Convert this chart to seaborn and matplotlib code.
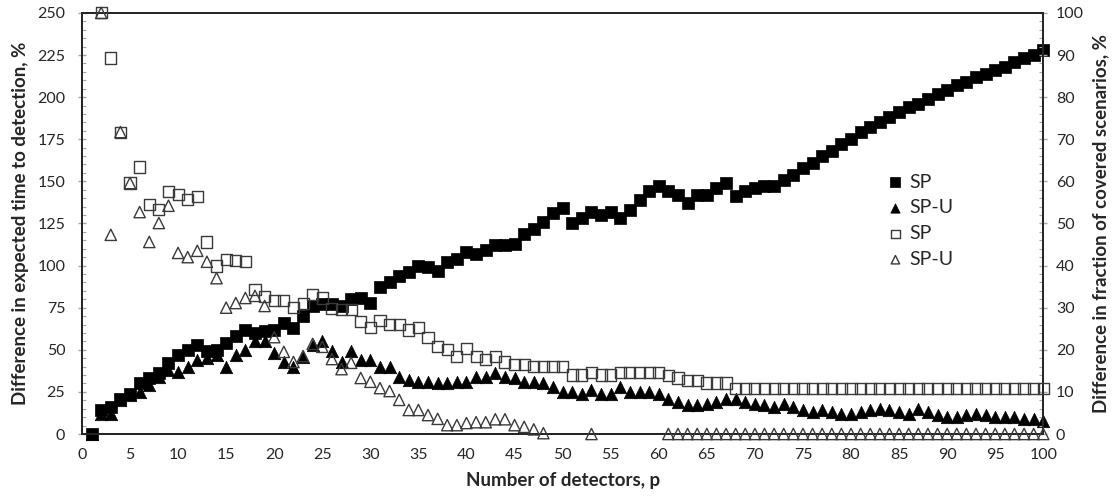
import numpy as np
import matplotlib
matplotlib.use("Agg")
import matplotlib.pyplot as plt
from matplotlib.ticker import MultipleLocator
import seaborn as sns

# Number of detectors
p = list(range(1, 101))

# Difference in expected time to detection, % (left axis)
sp_time = [0, 14, 16, 21, 24, 30, 33, 36, 42, 47,
           50, 53, 49, 50, 54, 58, 62, 60, 61, 62,
           66, 63, 70, 76, 77, 77, 76, 80, 81, 78,
           87, 90, 94, 96, 100, 99, 97, 102, 104, 108,
           107, 109, 112, 112, 113, 119, 122, 126, 131, 134,
           125, 128, 132, 130, 132, 128, 133, 139, 144, 147,
           144, 142, 137, 142, 142, 146, 149, 141, 144, 146,
           147, 147, 151, 154, 158, 161, 165, 168, 172, 175,
           179, 182, 185, 188, 191, 194, 196, 199, 202, 204,
           207, 209, 212, 214, 216, 218, 221, 223, 225, 228]

spu_time = [0, 12, 12, 20, 23, 25, 29, 34, 38, 37,
            40, 44, 45, 47, 40, 47, 50, 55, 55, 48,
            43, 40, 46, 53, 55, 49, 43, 49, 44, 44,
            40, 40, 34, 32, 31, 31, 30, 30, 31, 31,
            34, 34, 36, 34, 33, 31, 31, 30, 28, 25,
            25, 24, 26, 24, 24, 28, 25, 25, 25, 24,
            21, 19, 17, 17, 18, 19, 21, 21, 19, 18,
            17, 16, 18, 16, 14, 13, 14, 13, 12, 12,
            13, 14, 15, 14, 13, 12, 15, 13, 11, 10,
            10, 11, 12, 11, 10, 10, 10, 9, 9, 8]

# Difference in fraction of covered scenarios, % (right axis)
nan = np.nan
sp_cov = [nan, 100, 89.3, 71.7, 59.6, 63.4, 54.4, 53.4, 57.5, 56.8,
          55.6, 56.3, 45.6, 39.9, 41.5, 41.1, 40.9, 34.4, 32.6, 31.6,
          31.6, 30.0, 31.0, 33.2, 32.3, 29.7, 29.5, 29.5, 26.8, 25.2,
          27.0, 25.9, 26.1, 24.7, 25.2, 23.0, 20.7, 20.0, 18.5, 20.2,
          18.3, 17.6, 18.5, 17.1, 16.6, 16.6, 16.0, 16.0, 16.0, 16.0,
          14.0, 14.0, 14.5, 14.0, 14.0, 14.5, 14.5, 14.5, 14.5, 14.5,
          13.8, 13.3, 12.6, 12.6, 12.1, 12.1, 12.1] + [10.8] * 33

spu_cov = [nan, 100, 47.3, 71.7, 59.6, 52.7, 45.6, 50.1, 54.2, 43.0,
           42.0, 43.5, 40.9, 37.0, 30.0, 31.1, 32.3, 32.8, 30.4, 23.0,
           19.5, 17.1, 18.5, 21.4, 20.7, 17.8, 15.4, 16.9, 13.3, 12.4,
           10.9, 10.2, 8.1, 5.7, 5.7, 4.5, 3.6, 2.1, 2.1, 2.6,
           2.8, 2.8, 3.5, 3.5, 2.1, 1.7, 1.1, 0.2, nan, nan,
           nan, nan, 0.0, nan, nan, nan, nan, nan, nan, nan] + [0.0] * 40

sns.set_style("white")
plt.rcParams["font.family"] = ["Lato", "DejaVu Sans"]

fig = plt.figure(figsize=(11.12, 4.96), dpi=100)
ax = fig.add_axes([0.0737, 0.125, 0.8645, 0.849])
ax2 = ax.twinx()

common = dict(clip_on=False, legend=False)
sns.scatterplot(x=p, y=sp_time, ax=ax, marker="s", s=82, color="black",
                edgecolor="black", linewidth=0.5, label="SP", zorder=3, **common)
sns.scatterplot(x=p, y=spu_time, ax=ax, marker="^", s=80, color="black",
                edgecolor="black", linewidth=0.5, label="SP-U", zorder=3, **common)
sns.scatterplot(x=p, y=sp_cov, ax=ax2, marker="s", s=64, facecolors="none",
                edgecolors="#3a3a3a", linewidths=1.0, label="SP", zorder=3, **common)
sns.scatterplot(x=p, y=spu_cov, ax=ax2, marker="^", s=66, facecolors="none",
                edgecolors="#3a3a3a", linewidths=1.0, label="SP-U", zorder=3, **common)

ax.set_xlim(0, 100)
ax.set_ylim(0, 250)
ax2.set_ylim(0, 100)

tick_grey = "#a6a6a6"
ax.xaxis.set_major_locator(MultipleLocator(5))
ax.xaxis.set_minor_locator(MultipleLocator(1))
ax.yaxis.set_major_locator(MultipleLocator(25))
ax.yaxis.set_minor_locator(MultipleLocator(5))
ax2.yaxis.set_major_locator(MultipleLocator(10))
ax2.yaxis.set_minor_locator(MultipleLocator(2))

ax.tick_params(axis="x", which="major", direction="out", length=4, width=1,
               color=tick_grey, labelsize=11.5, pad=6)
ax.tick_params(axis="x", which="minor", direction="out", length=3, width=0.8,
               color=tick_grey)
ax.tick_params(axis="y", which="major", direction="inout", length=6, width=1,
               color=tick_grey, labelsize=11.5, pad=9)
ax.tick_params(axis="y", which="minor", direction="in", length=3, width=0.8,
               color=tick_grey, left=True)
ax2.tick_params(axis="y", which="major", direction="inout", length=6, width=1,
                color=tick_grey, labelsize=11.5, pad=6)
ax2.tick_params(axis="y", which="minor", direction="in", length=3, width=0.8,
                color=tick_grey, right=True)

for a in (ax, ax2):
    for side in ("left", "right", "top", "bottom"):
        a.spines[side].set_visible(True)
        a.spines[side].set_color("#262626")
        a.spines[side].set_linewidth(1.4)

label_font = dict(fontsize=13.5, fontweight="bold")
ax.set_xlabel("Number of detectors, p", labelpad=7, **label_font)
ax.set_ylabel("Difference in expected time to detection, %", labelpad=6, **label_font)
ax2.set_ylabel("Difference in fraction of covered scenarios, %", labelpad=6, **label_font)

h1, l1 = ax.get_legend_handles_labels()
h2, l2 = ax2.get_legend_handles_labels()
ax2.legend(h1 + h2, l1 + l2, loc="upper left", bbox_to_anchor=(0.828, 0.637),
           frameon=False, fontsize=14, markerscale=0.75, handletextpad=0.2,
           handlelength=1.0, labelspacing=0.45, borderaxespad=0)

fig.savefig("out.png", dpi=100)
